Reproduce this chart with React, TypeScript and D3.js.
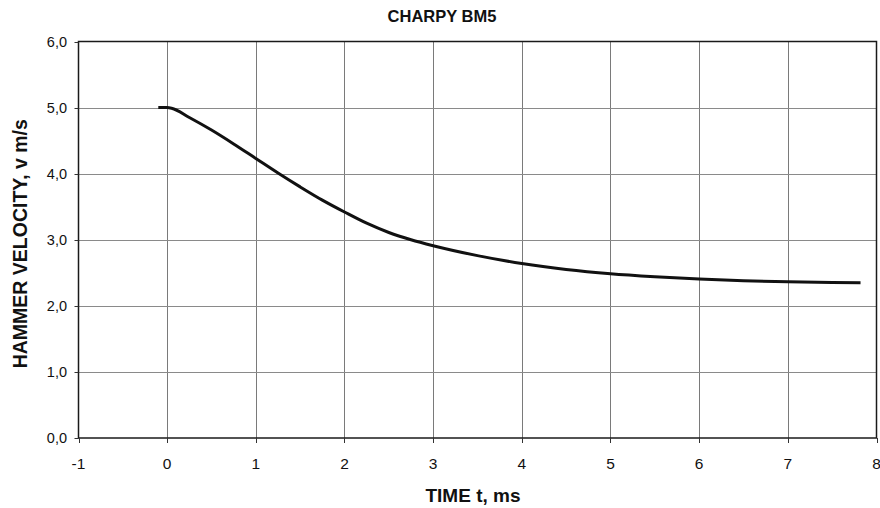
import React from "react";
import * as d3 from "d3";

const title = "CHARPY BM5";
const xLabel = "TIME t, ms";
const yLabel = "HAMMER VELOCITY, v m/s";

const xTicks = [-1, 0, 1, 2, 3, 4, 5, 6, 7, 8];
const yTicks = [0, 1, 2, 3, 4, 5, 6];

const timeMs = [-0.1, 0, 0.05, 0.25, 0.5, 0.75, 1, 1.25, 1.5, 1.75, 2, 2.25, 2.5, 2.75, 3, 3.5, 4, 4.5, 5, 5.5, 6, 6.5, 7, 7.5, 7.82];
const velocity = [5.0, 5.0, 4.99, 4.85, 4.66, 4.45, 4.23, 4.01, 3.8, 3.6, 3.42, 3.25, 3.11, 3.0, 2.91, 2.76, 2.64, 2.55, 2.485, 2.44, 2.405, 2.38, 2.363, 2.353, 2.35];

const W = 880;
const H = 508;
const left = 78.5;
const right = 876.5;
const top = 41.5;
const bottom = 438;

export default function App() {
  const x = d3.scaleLinear().domain([-1, 8]).range([left, right]);
  const y = d3.scaleLinear().domain([0, 6]).range([bottom, top]);
  const pts: [number, number][] = timeMs.map((t, i) => [t, velocity[i]]);
  const line = d3
    .line<[number, number]>()
    .x((d) => x(d[0]))
    .y((d) => y(d[1]))
    .curve(d3.curveMonotoneX);
  const fmt = (v: number) => v.toFixed(1).replace(".", ",");
  const snap = (v: number) => Math.round(v) + 0.5;
  return (
    <svg
      width={W}
      height={H}
      style={{ position: "absolute", left: 0, top: 0, background: "#fff" }}
      fontFamily="Arial, 'Liberation Sans', sans-serif"
    >
      <rect x={0} y={0} width={W} height={H} fill="#fff" />
      {/* grid */}
      {xTicks.slice(1, -1).map((t) => (
        <line key={"gx" + t} x1={snap(x(t))} x2={snap(x(t))} y1={top} y2={bottom} stroke="#7a7a7a" strokeWidth={1} />
      ))}
      {yTicks.slice(1, -1).map((t) => (
        <line key={"gy" + t} x1={left} x2={right} y1={snap(y(t))} y2={snap(y(t))} stroke="#8a8a8a" strokeWidth={1} />
      ))}
      {/* frame */}
      <rect x={left} y={top} width={right - left} height={bottom - top} fill="none" stroke="#1a1a1a" strokeWidth={1.5} />
      {/* ticks */}
      {xTicks.map((t) => (
        <g key={"xt" + t}>
          <line x1={snap(x(t))} x2={snap(x(t))} y1={bottom} y2={bottom + 5} stroke="#333" strokeWidth={1} />
          <text x={x(t)} y={469} textAnchor="middle" fontSize={15.5} fill="#111">
            {t}
          </text>
        </g>
      ))}
      {yTicks.map((t) => (
        <g key={"yt" + t}>
          <line x1={left - 4} x2={left} y1={snap(y(t))} y2={snap(y(t))} stroke="#333" strokeWidth={1} />
          <text x={67} y={y(t) + 5} textAnchor="end" fontSize={14.5} fill="#111">
            {fmt(t)}
          </text>
        </g>
      ))}
      {/* curve */}
      <path d={line(pts) || ""} fill="none" stroke="#111" strokeWidth={3} strokeLinejoin="round" />
      {/* titles */}
      <text x={442} y={22} textAnchor="middle" fontSize={16.5} fontWeight="bold" fill="#111">
        {title}
      </text>
      <text x={473} y={502} textAnchor="middle" fontSize={19} fontWeight="bold" fill="#111">
        {xLabel}
      </text>
      <text
        transform={`translate(27,${(top + bottom) / 2 + 4}) rotate(-90)`}
        textAnchor="middle"
        fontSize={19.5}
        fontWeight="bold"
        fill="#111"
      >
        {yLabel}
      </text>
    </svg>
  );
}
